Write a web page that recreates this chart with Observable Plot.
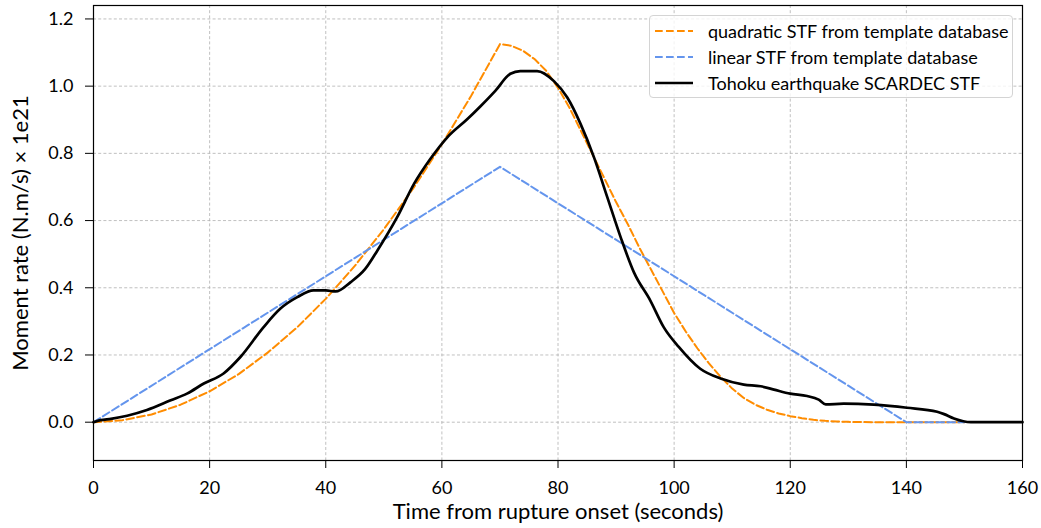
<!DOCTYPE html>
<html><head><meta charset="utf-8">
<script src="https://cdn.jsdelivr.net/npm/d3@7"></script>
<script src="https://cdn.jsdelivr.net/npm/@observablehq/plot@0.6"></script>
<style>
body{margin:0;background:#fff;}
#wrap{position:relative;width:1041px;height:528px;font-family:Lato, sans-serif;}
#legend{position:absolute;left:649px;top:15px;width:364px;height:83px;border:1px solid #d4d4d4;border-radius:4px;background:rgba(255,255,255,0.8);box-sizing:border-box;}
.row{position:absolute;left:0;height:26px;display:flex;align-items:center;font-size:18px;color:#000;white-space:nowrap;}
.row svg{margin-left:5px;margin-right:15px;}
</style></head><body><div id="wrap"><div id="legend"></div></div>
<script>
// Tick values
const xTicks = [0, 20, 40, 60, 80, 100, 120, 140, 160];
const yTicks = [0.0, 0.2, 0.4, 0.6, 0.8, 1.0, 1.2];
const xLabel = "Time from rupture onset (seconds)";
const yLabel = "Moment rate (N.m/s) × 1e21";

// Quadratic STF from template database
const quadTime = [0,5,10,15,20,25,30,35,40,45,50,55,60,65,70,72,74,76,78,80,82,84,86,88,90,92,94,96,98,100,102,104,106,108,110,112,114,116,118,120,122,124,126,128,130,135,150];
const quadRate = [0,0.006,0.023,0.052,0.092,0.143,0.207,0.281,0.367,0.465,0.574,0.694,0.827,0.970,1.125,1.12,1.105,1.08,1.045,0.995,0.935,0.865,0.795,0.725,0.655,0.59,0.52,0.455,0.39,0.325,0.27,0.22,0.175,0.135,0.10,0.072,0.052,0.037,0.026,0.018,0.012,0.007,0.004,0.002,0.001,0,0];

// Linear STF from template database
const linTime = [0, 70, 140, 150];
const linRate = [0, 0.76, 0, 0];

// Tohoku earthquake SCARDEC STF
const scardecTime = [0,1.2,3,5.8,9.2,13.3,16.1,19,22.4,25.3,29.3,32.2,35.1,37.9,40,41.7,44.3,46.8,48.9,52.3,55.2,58,60.9,64.4,66.7,69.2,71.8,73.5,76.4,79.3,81.6,83.9,86.2,88.5,90.8,93.1,95.9,98.2,100.8,104.5,108,112,114.9,117.2,120,122.9,124.9,126.1,129.2,134.4,140.1,145.3,146.5,148.2,151.1,160];
const scardecRate = [0,0.006,0.010,0.019,0.036,0.065,0.085,0.115,0.145,0.194,0.283,0.338,0.372,0.392,0.392,0.389,0.417,0.456,0.511,0.61,0.709,0.783,0.847,0.902,0.941,0.986,1.037,1.045,1.045,1.015,0.966,0.887,0.788,0.669,0.55,0.445,0.362,0.283,0.224,0.159,0.130,0.112,0.107,0.097,0.085,0.078,0.067,0.053,0.055,0.052,0.043,0.031,0.024,0.011,0,0];

const seriesNames = ["quadratic STF from template database", "linear STF from template database", "Tohoku earthquake SCARDEC STF"];
const seriesColors = ["#ff8c00", "#6495ed", "#000000"];

const zip = (ts, vs) => ts.map((t, i) => ({t, v: vs[i]}));
const quad = zip(quadTime, quadRate);
const lin = zip(linTime, linRate);
const scardec = zip(scardecTime, scardecRate);

const gridStyle = {stroke: "#b0b0b0", strokeOpacity: 1, strokeWidth: 0.8, strokeDasharray: "3,2.2"};

const chart = Plot.plot({
  width: 1041, height: 528,
  marginLeft: 93, marginRight: 19, marginTop: 5, marginBottom: 68,
  style: {fontFamily: "Lato, sans-serif", fontSize: "18px", color: "#000", background: "transparent"},
  x: {domain: [0, 160]},
  y: {domain: [-0.114, 1.24]},
  marks: [
    Plot.gridX(xTicks, gridStyle),
    Plot.gridY(yTicks, gridStyle),
    Plot.line(quad, {x: "t", y: "v", stroke: seriesColors[0], strokeWidth: 2, strokeDasharray: "7.7,3.3"}),
    Plot.line(lin, {x: "t", y: "v", stroke: seriesColors[1], strokeWidth: 2, strokeDasharray: "7.7,3.3"}),
    Plot.line(scardec, {x: "t", y: "v", stroke: seriesColors[2], strokeWidth: 2.7, curve: "monotone-x"}),
    Plot.frame({stroke: "#000", strokeWidth: 1.2}),
    Plot.axisX(xTicks, {tickSize: 8, tickPadding: 13, tickFormat: d3.format("d"), label: null}),
    Plot.axisY(yTicks, {tickSize: 8, tickPadding: 12, tickFormat: d3.format(".1f"), label: null}),
    Plot.text([xLabel], {text: d => d, frameAnchor: "bottom", dy: 51, lineAnchor: "middle", textAnchor: "middle", fontSize: 22, fill: "#000"}),
    Plot.text([yLabel], {text: d => d, frameAnchor: "left", dx: -73, rotate: -90, lineAnchor: "middle", textAnchor: "middle", fontSize: 22, fill: "#000"})
  ]
});
document.getElementById("wrap").prepend(chart);

// Legend
const legend = document.getElementById("legend");
const rowTops = [2, 28, 54];
seriesNames.forEach((name, i) => {
  const row = document.createElement("div");
  row.className = "row";
  row.style.top = rowTops[i] + "px";
  const dash = i < 2 ? 'stroke-dasharray="7.7,3.3"' : '';
  const w = i < 2 ? 2 : 2.7;
  row.innerHTML = `<svg width="38" height="10"><line x1="0" y1="5" x2="38" y2="5" stroke="${seriesColors[i]}" stroke-width="${w}" ${dash}/></svg><span>${name}</span>`;
  legend.appendChild(row);
});
</script>
</body></html>
